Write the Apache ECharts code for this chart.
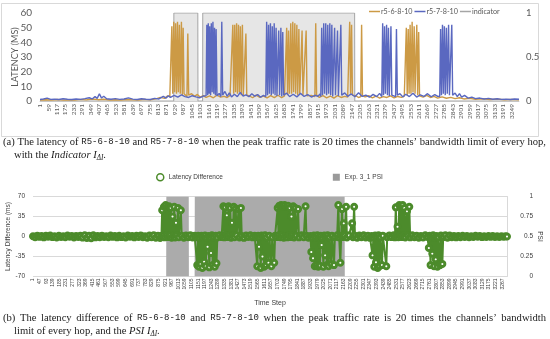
<!DOCTYPE html>
<html><head><meta charset="utf-8">
<script src="https://cdn.jsdelivr.net/npm/echarts@6/dist/echarts.min.js"></script>
<style>html,body{margin:0;padding:0;background:#fff}#c{width:550px;height:339px}</style>
</head><body><div id="c"></div>
<script>
// ---------- categories (time steps) ----------
const STEP_COUNT = 3300;
const timeSteps = Array.from({length: STEP_COUNT}, (_, i) => String(i + 1));
const topLabelEvery = 58;     // tick labels 1, 59, 117, ... 3249
const bottomLabelEvery = 46;  // tick labels 1, 47, 93, ... 3267

// ---------- (a) latency, ms : [time step, value] ----------
const r5_6_8_10 = [
[1,0.6],[40,0.9],[80,0.7],[120,1.0],[160,0.6],[200,0.9],[240,0.7],[280,1.1],[320,0.8],[360,1.4],[400,0.9],[440,1.2],[480,0.7],[520,0.9],[560,0.6],[600,1.0],[640,0.8],[680,0.7],[720,1.1],[760,0.8],[800,1.5],[830,2.5],[860,1.8],[880,3.5],[895,2.8],
[903,3],[909,51],[915,5],[922,54],[928,6],[935,53],[941,5],[948,54],[954,6],[961,52],[967,5],[975,54],[981,4],[987,50],[993,5],[1000,4.4],[1013,3],[1019,46],[1025,4],
[1045,5.0],[1065,3.2],[1085,4.5],[1105,2.6],[1125,3.6],[1145,2.4],[1170,3.5],[1195,2.2],[1220,4.0],[1245,2.6],[1270,3.2],[1290,2.4],[1310,3.8],
[1323,3],[1329,52],[1335,5],[1342,52],[1348,6],[1355,53],[1361,5],[1368,52],[1374,6],[1381,51],[1387,4],[1395,52],[1401,4],[1419,46],[1425,4],
[1445,3.4],[1465,2.2],[1490,4.0],[1515,2.5],[1540,3.3],[1565,2.1],[1590,3.6],[1615,2.3],[1640,3.9],[1665,2.2],[1685,3.5],
[1694,3],[1700,50],[1706,4],[1713,48],[1719,5],[1728,53],[1734,5],[1742,54],[1748,6],[1756,53],[1762,5],[1770,52],[1776,4],[1784,49],[1790,5],[1806,48],[1812,4],[1834,48],[1840,3.5],[1870,3.8],[1894,3],[1900,53],[1906,4],
[1925,2.5],[1950,3.6],[1975,2.2],[2000,3.4],[2025,2.0],[2050,3.7],[2075,2.4],[2100,3.2],[2120,2.6],
[2128,3],[2134,54],[2140,5],[2147,52],[2153,4],[2175,3.6],[2195,2.4],[2210,3],[2216,52],[2222,3.5],
[2240,2.8],[2265,3.6],[2290,2.2],[2315,3.4],[2340,2.0],[2365,3.0],[2390,2.4],[2415,3.5],[2440,2.2],[2465,3.1],[2490,2.5],[2510,3.4],
[2518,3],[2524,50],[2530,4],[2537,49],[2543,5],[2550,52],[2556,5],[2564,54],[2570,6],[2578,51],[2584,5],[2596,52],[2602,4],[2609,47],[2615,3.5],
[2640,2.6],[2665,3.8],[2690,2.4],[2715,3.2],[2740,2.0],[2770,2.8],[2800,1.9],[2830,2.5],[2860,1.6],[2890,2.2],[2920,1.4],[2960,1.8],[3000,1.2],[3050,1.5],[3100,1.0],[3150,1.3],[3200,0.9],[3250,1.1],[3300,0.8]
];
const r5_7_8_10 = [
[1,1.0],[25,1.4],[50,2.0],[75,1.1],[100,1.3],[130,1.0],[160,1.5],[190,1.2],[220,1.0],[250,1.4],[280,1.1],[310,1.6],[340,2.2],[360,1.4],[380,3.0],[395,1.8],[410,4.9],[425,2.0],[440,3.2],[460,1.5],[490,1.2],[520,1.6],[550,1.1],[580,1.4],[610,2.1],[640,1.3],[670,1.0],[700,1.5],[730,1.2],[760,1.0],[790,1.8],[820,1.4],[850,3.2],[870,2.0],[885,3.6],[900,2.5],
[925,3.8],[950,2.6],[975,4.2],[1000,3.0],[1025,2.4],[1050,3.6],[1075,2.8],[1100,2.2],[1125,3.4],
[1145,3.5],[1150,52],[1156,4],[1160,53],[1166,5],[1170,51],[1176,4],[1181,53],[1187,6],[1192,54],[1198,5],[1203,50],[1209,4],[1214,49],[1220,3.5],[1235,5.2],[1247,3],[1253,54],[1259,4],
[1275,6.5],[1290,3.2],[1305,5.5],[1320,2.8],[1340,4.6],[1360,3.0],[1380,5.8],[1400,3.4],[1420,4.2],[1440,2.9],[1460,5.0],[1480,3.3],[1500,4.4],[1520,2.6],[1540,3.8],
[1556,3],[1562,54],[1568,4],[1575,52],[1581,5],[1588,53],[1594,4],[1601,51],[1607,5],[1614,53],[1620,4],[1627,50],[1633,3.5],[1645,48],[1651,4],[1660,50],[1666,3],[1673,47],[1679,4],
[1700,5.4],[1720,3.0],[1745,4.6],[1770,2.8],[1795,5.2],[1820,3.1],[1845,4.4],[1870,2.7],[1895,3.9],[1915,3.2],[1930,4.8],
[1935,3],[1941,50],[1947,4],[1955,53],[1961,5],[1969,53],[1975,4],[1983,52],[1989,5],[1997,53],[2003,4],[2011,52],[2017,3],[2030,50],[2036,4],[2050,48],[2056,3.5],[2073,52],[2079,4],
[2100,5.5],[2120,3.2],[2145,4.8],[2170,2.9],[2195,5.6],[2220,3.1],[2245,4.0],[2270,2.6],[2295,4.5],[2320,3.0],[2340,5.2],
[2355,3],[2361,53],[2367,4],[2374,51],[2380,5],[2388,52],[2394,4],[2401,50],[2407,3.5],[2418,51],[2424,4],[2450,3],[2456,49],[2462,4],
[2480,5.0],[2500,2.8],[2520,4.6],[2545,3.0],[2570,5.3],[2595,2.7],[2620,4.2],[2645,3.1],[2670,5.0],[2695,2.9],[2720,4.4],[2740,3.2],
[2754,3],[2760,49],[2766,4],[2773,52],[2779,5],[2786,51],[2792,4],[2800,50],[2806,5],[2815,52],[2821,4],[2837,52],[2843,4],
[2860,5.4],[2875,3.0],[2890,5.0],[2905,2.6],[2925,3.8],[2950,2.0],[2975,2.6],[3000,1.6],[3030,2.0],[3060,1.4],[3090,1.8],[3120,1.2],[3150,1.5],[3180,1.1],[3210,1.3],[3240,1.0],[3270,1.4],[3300,1.2]
];
const indicator = [[1,0],[922,0],[923,1],[1088,1],[1089,0],[1121,0],[1122,1],[2168,1],[2169,0],[3300,0]];

// ---------- (b) latency difference, ms : [time step, value] ----------
const latencyDifference = [
[1,0.5],[16,-1.2],[31,1.4],[46,-0.6],[61,0.9],[76,-1.5],[91,1.1],[106,-0.4],[121,1.6],[136,-1.0],[151,0.3],[166,-1.7],[181,1.2],[196,-0.8],[211,0.6],[226,-1.3],[241,1.8],[256,-0.5],[271,0.8],[286,-1.6],[301,1.0],[316,-0.9],[331,1.5],[346,-1.9],[361,2.2],[376,-2.5],[391,1.3],[406,-3.0],[421,2.0],[436,-1.4],[451,0.7],[466,-1.1],[481,1.4],[496,-0.7],[511,0.4],[526,-1.2],[541,1.7],[556,-0.6],[571,0.9],[586,-1.5],[601,1.2],[616,-1.0],[631,0.5],[646,-1.8],[661,1.6],[676,-0.3],[691,0.8],[706,-1.4],[721,1.1],[736,-0.9],[751,1.9],[766,-1.1],[781,0.6],[796,-2.0],[811,1.8],[826,-1.3],[841,2.4],[856,-2.2],[871,1.5],[886,-2.6],
[895,1.0],[900,46],[906,2.0],[912,52],[918,-1.5],[924,55],[930,1.8],[936,52],[942,-1.0],[948,53],[954,2.2],[960,50],[966,-2.0],[972,35],[978,1.2],[984,52],[990,-1.6],[996,24],[1002,2.5],[1010,50],[1016,-1.2],[1030,46],[1036,1.4],
[1051,-2.0],[1066,1.6],[1081,-1.1],[1096,2.3],[1111,-1.8],[1126,1.2],
[1138,-1.5],[1144,-50],[1150,1.5],[1156,-53],[1162,-2.0],[1168,-48],[1174,1.2],[1180,-55],[1186,-1.0],[1192,-44],[1198,1.8],[1204,-52],[1210,-2.2],[1216,-18],[1222,1.0],[1228,-54],[1234,-1.4],[1240,-29],[1246,2.0],[1252,-50],[1258,-1.2],[1266,-53],[1272,1.4],[1278,-47],[1284,-1.8],
[1299,2.1],[1314,-1.0],
[1320,1.2],[1326,53],[1332,-1.4],[1338,51],[1344,2.0],[1350,37],[1356,-1.0],[1362,53],[1368,1.6],[1374,50],[1380,-2.0],[1386,24],[1392,1.4],[1398,52],[1404,-1.2],[1412,49],[1418,2.2],[1432,48],[1438,-1.6],[1448,50],[1454,1.0],
[1469,-2.3],[1484,1.7],[1499,-0.9],[1514,2.0],[1529,-1.5],[1544,1.1],
[1556,-1.2],[1562,-52],[1568,1.4],[1574,-18],[1580,-2.0],[1586,-55],[1592,1.6],[1598,-35],[1604,-1.0],[1610,-53],[1616,2.0],[1622,-50],[1628,-1.8],[1640,-46],[1646,1.2],[1660,-52],[1666,-1.4],[1680,-46],[1686,1.5],
[1698,-1.0],
[1704,50],[1710,2.0],[1716,54],[1722,-1.2],[1728,55],[1734,1.6],[1740,53],[1746,-2.0],[1752,55],[1758,1.0],[1764,52],[1770,-1.4],[1776,54],[1782,2.2],[1788,50],[1794,-1.0],[1800,35],[1806,1.6],[1812,53],[1818,-1.8],[1826,50],[1832,1.2],[1846,48],[1852,-1.5],[1870,2.0],[1885,-1.2],[1898,53],[1904,1.4],
[1918,-2.0],
[1932,1.0],[1938,-27],[1944,-1.6],[1950,-38],[1956,1.8],[1962,-52],[1968,-1.2],[1974,-50],[1980,2.0],[1986,-53],[1992,-1.4],[1998,-51],[2004,1.2],[2010,-15],[2016,-2.0],[2022,-53],[2028,1.6],[2034,-33],[2040,-1.0],[2046,-50],[2052,2.2],[2058,-52],[2064,-1.6],[2076,-48],[2082,1.4],[2096,-50],[2102,-1.0],[2118,2.0],
[2126,55],[2132,-1.4],[2140,-46],[2146,1.2],[2152,48],[2158,-1.0],[2164,23],[2170,1.6],[2180,52],[2186,-1.8],[2200,2.0],[2222,23],[2228,-1.2],[2236,52],[2242,1.4],
[2257,-2.2],[2272,1.6],[2287,-1.1],[2302,2.0],[2317,-1.6],[2332,1.2],[2347,-2.4],
[2358,1.0],[2364,-33],[2370,-1.4],[2376,-53],[2382,1.8],[2388,-45],[2394,-1.0],[2400,-55],[2406,2.0],[2412,-52],[2418,-1.6],[2430,-50],[2436,1.4],[2460,-52],[2466,-1.2],
[2481,1.9],[2496,-1.0],[2511,2.3],
[2520,-1.4],[2526,51],[2532,1.6],[2538,17],[2544,-1.2],[2550,55],[2556,2.0],[2562,53],[2568,-1.0],[2574,55],[2580,1.4],[2586,50],[2592,-1.6],[2604,44],[2610,1.2],[2620,52],[2626,-1.5],
[2641,2.0],[2656,-1.3],[2671,1.5],[2686,-2.1],[2701,1.0],[2716,-1.7],[2731,2.2],[2746,-0.9],
[2756,-20],[2762,1.4],[2768,-50],[2774,-1.2],[2780,-30],[2786,2.0],[2792,-52],[2798,-1.6],[2804,-40],[2810,1.0],[2816,-53],[2822,-1.4],[2834,-50],[2840,1.6],[2850,-48],[2856,-1.0],
[2871,2.4],[2886,-2.0],[2901,1.8],[2916,-1.2],[2931,1.0],[2946,-1.5],[2961,0.8],[2976,-1.1],[2991,1.3],[3006,-0.7],[3021,0.9],[3036,-1.2],[3051,0.6],[3066,-0.9],[3081,1.1],[3096,-0.5],[3111,0.8],[3126,-1.0],[3141,0.5],[3156,-0.8],[3171,0.9],[3186,-0.6],[3201,0.7],[3216,-0.9],[3231,0.4],[3246,-0.7],[3261,0.6],[3276,-0.4],[3291,0.3],[3300,0.0]
];
const psiExp31 = [[1,0],[928,0],[929,1],[1085,1],[1086,0],[1126,0],[1127,1],[2170,1],[2171,0],[3300,0]];

// ---------- tick values ----------
const topLeftTicks = {min: 0, max: 60, interval: 10};
const topRightTicks = {min: 0, max: 1, interval: 0.5};
const botLeftTicks = {min: -70, max: 70, interval: 35};
const botRightTicks = {min: 0, max: 1, interval: 0.25};

// ---------- styles ----------
const OLIVE = '#CC9A45', BLUE = '#5A68C0', GRAYLINE = '#A5A5A5', GREEN = '#4C8B2B';
const XL = 'Lato', AR = 'Liberation Sans', SERIF = 'Liberation Serif', MONO = 'Liberation Mono';
const toCat = arr => arr.map(([s, v]) => [String(s), v]);

const capRich = {
  m: {fontFamily: MONO, fontSize: 9, lineHeight: 14},
  i: {fontStyle: 'italic', fontFamily: SERIF, fontSize: 10.6, lineHeight: 14},
  s: {fontStyle: 'italic', fontFamily: SERIF, fontSize: 7.2, verticalAlign: 'bottom', lineHeight: 14},
  w: {fontFamily: SERIF, fontSize: 18.5, lineHeight: 14}
};
function caption(text, x, y) {
  return {type: 'text', x: x, y: y, silent: true,
    style: {text: text, fill: '#1a1a1a', fontFamily: SERIF, fontSize: 10.6, lineHeight: 14,
      verticalAlign: 'middle', rich: capRich}};
}
// justified line: wider word gaps
const justify = s => s.split(' ').join('{w| }');

const chart = echarts.init(document.getElementById('c'));
chart.setOption({
  animation: false,
  backgroundColor: '#fff',
  graphic: [
    {type: 'rect', silent: true, z: -10, shape: {x: 1.5, y: 3.5, width: 537, height: 133},
      style: {fill: 'none', stroke: '#D9D9D9', lineWidth: 1}},
    caption('(a) The latency of {m|R5-6-8-10} and {m|R5-7-8-10} when the peak traffic rate is 20 times the channels\u2019 bandwidth limit of every hop,', 3, 142),
    caption('with the {i|Indicator} {i|I}{s|\u0394I}.', 14, 155),
    caption(justify('(b) The latency difference of') + '{w| }{m|R5-6-8-10}{w| }and{w| }{m|R5-7-8-10}{w| }' + justify('when the peak traffic rate is 20 times the channels\u2019 bandwidth'), 3, 318),
    caption('limit of every hop, and the {i|PSI} {i|I}{s|\u0394I}.', 14, 331)
  ],
  legend: [
    {left: 369, top: 8, padding: 0, itemWidth: 11, itemHeight: 1.5, itemGap: 2, icon: 'rect',
      data: ['r5-6-8-10', 'r5-7-8-10', 'indicator'],
      textStyle: {fontSize: 7.2, color: '#595959', fontFamily: XL, padding: [0, 0, 0, -4]}},
    {left: 156, top: 173, padding: 0, itemWidth: 7, itemHeight: 7, itemGap: 110,
      data: [{name: 'Latency Difference', icon: 'circle', itemStyle: {color: '#fff', borderColor: GREEN, borderWidth: 1.5}},
             {name: 'Exp. 3_1 PSI', icon: 'rect'}],
      textStyle: {fontSize: 6.5, color: '#404040', fontFamily: AR}}
  ],
  grid: [
    {left: 40, right: 31, top: 13, height: 88, outerBoundsMode: 'none', containLabel: false},
    {left: 33, right: 43, top: 196.5, height: 80, outerBoundsMode: 'none', containLabel: false}
  ],
  xAxis: [
    {type: 'category', gridIndex: 0, data: timeSteps, boundaryGap: false,
      axisLine: {lineStyle: {color: '#D0D0D0'}}, axisTick: {show: false},
      axisLabel: {interval: topLabelEvery - 1, rotate: 90, fontSize: 6.5, color: '#595959', margin: 3, fontFamily: XL}},
    {type: 'category', gridIndex: 1, data: timeSteps, boundaryGap: false,
      name: 'Time Step', nameLocation: 'middle', nameGap: 23, nameMoveOverlap: false,
      nameTextStyle: {fontSize: 7, color: '#404040', fontFamily: AR},
      axisLine: {lineStyle: {color: '#7F7F7F'}}, axisTick: {show: false},
      axisLabel: {interval: bottomLabelEvery - 1, rotate: 90, fontSize: 5, color: '#404040', margin: 2, fontFamily: AR}}
  ],
  yAxis: [
    {type: 'value', gridIndex: 0, ...topLeftTicks,
      name: 'LATENCY (MS)', nameLocation: 'middle', nameGap: 20, nameMoveOverlap: false,
      nameTextStyle: {fontSize: 9, color: '#595959', fontFamily: XL},
      axisLine: {show: false}, axisTick: {show: false}, splitLine: {show: false},
      axisLabel: {fontSize: 10, color: '#595959', margin: 8, fontFamily: XL}},
    {type: 'value', gridIndex: 0, position: 'right', ...topRightTicks,
      axisLine: {show: false}, axisTick: {show: false}, splitLine: {show: false},
      axisLabel: {fontSize: 9.5, color: '#595959', margin: 7, fontFamily: XL}},
    {type: 'value', gridIndex: 1, ...botLeftTicks,
      name: 'Latency Difference (ms)', nameLocation: 'middle', nameGap: 21, nameMoveOverlap: false,
      nameTextStyle: {fontSize: 6.5, color: '#404040', fontFamily: AR},
      axisLine: {show: false}, axisTick: {show: false},
      splitLine: {lineStyle: {color: '#D9D9D9', width: 1}},
      axisLabel: {fontSize: 6.5, color: '#404040', margin: 8, fontFamily: AR}},
    {type: 'value', gridIndex: 1, position: 'right', ...botRightTicks,
      name: 'PSI', nameLocation: 'middle', nameRotate: -90, nameGap: 29, nameMoveOverlap: false,
      nameTextStyle: {fontSize: 6.5, color: '#404040', fontFamily: AR},
      axisLine: {show: true, lineStyle: {color: '#D9D9D9'}}, axisTick: {show: false}, splitLine: {show: false},
      axisLabel: {fontSize: 6.5, color: '#404040', margin: 26, align: 'right', fontFamily: AR}}
  ],
  series: [
    {name: 'indicator', type: 'line', xAxisIndex: 0, yAxisIndex: 1, data: toCat(indicator),
      symbol: 'none', z: 1, lineStyle: {color: GRAYLINE, width: 1}, itemStyle: {color: GRAYLINE},
      areaStyle: {color: '#E6E6E6', opacity: 1}},
    {name: 'r5-6-8-10', type: 'line', xAxisIndex: 0, yAxisIndex: 0, data: toCat(r5_6_8_10),
      symbol: 'none', z: 3, lineStyle: {color: OLIVE, width: 1.4}, itemStyle: {color: OLIVE}},
    {name: 'r5-7-8-10', type: 'line', xAxisIndex: 0, yAxisIndex: 0, data: toCat(r5_7_8_10),
      symbol: 'none', z: 4, lineStyle: {color: BLUE, width: 1.4}, itemStyle: {color: BLUE}},
    {name: 'Exp. 3_1 PSI', type: 'line', xAxisIndex: 1, yAxisIndex: 3, data: toCat(psiExp31),
      symbol: 'none', z: 1, lineStyle: {width: 0, color: '#ABABAB'}, itemStyle: {color: '#9A9A9A'},
      areaStyle: {color: '#ABABAB', opacity: 1}},
    {name: 'Latency Difference', type: 'line', xAxisIndex: 1, yAxisIndex: 2, data: toCat(latencyDifference),
      symbol: 'circle', symbolSize: 5, showAllSymbol: true, z: 3,
      lineStyle: {color: GREEN, width: 2},
      itemStyle: {color: '#fff', borderColor: GREEN, borderWidth: 3}}
  ]
});
</script></body></html>
